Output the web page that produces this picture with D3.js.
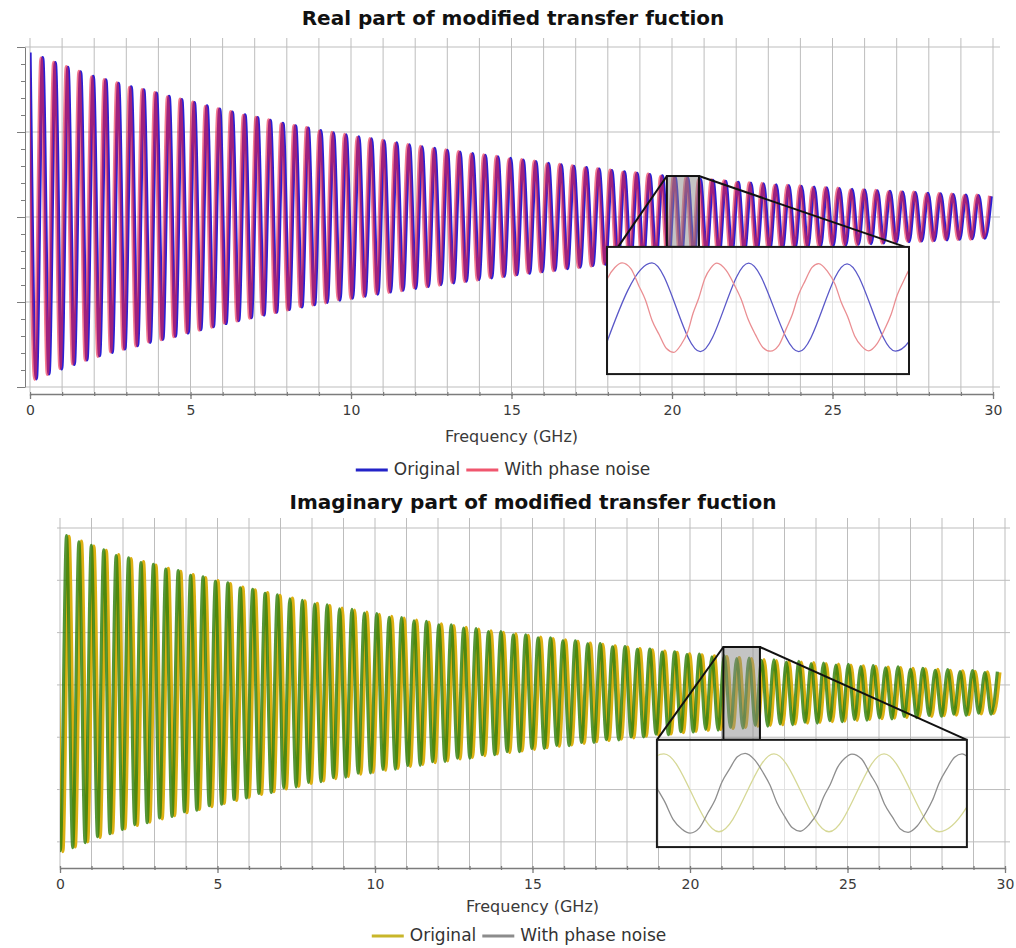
<!DOCTYPE html>
<html>
<head>
<meta charset="utf-8">
<script src="https://cdn.jsdelivr.net/npm/d3@7"></script>
<style>
  body { margin: 0; background: #fff; }
  svg { display: block; }
  text { font-family: "DejaVu Sans", Verdana, sans-serif; }
</style>
</head>
<body>
<svg id="chart" width="1016" height="948"></svg>
<script>
// ---------------- DATA ----------------
const freqTicks = [0, 5, 10, 15, 20, 25, 30];
const seriesNames = ["Original", "With phase noise"];
const titles = ["Real part of modified transfer fuction", "Imaginary part of modified transfer fuction"];
const xTitle = "Frequency (GHz)";

// extrema of the oscillation are evenly spaced in frequency
const extremaStepGHz = 0.197;
const realOriginalFirstGHz = 0.0;
const realNoisyFirstGHz = -0.05;
const imagOriginalFirstGHz = -0.107;
const imagNoisyFirstGHz = -0.187;

// value at each successive extremum (peak / trough)
const realOriginal = [0.967,-0.952,0.937,-0.923,0.908,-0.893,0.880,-0.867,0.853,-0.840,
0.827,-0.816,0.806,-0.796,0.786,-0.775,0.766,-0.756,0.747,-0.737,
0.728,-0.719,0.709,-0.700,0.691,-0.682,0.672,-0.663,0.653,-0.644,
0.634,-0.626,0.617,-0.609,0.601,-0.592,0.584,-0.576,0.568,-0.559,
0.551,-0.543,0.536,-0.529,0.522,-0.515,0.508,-0.502,0.495,-0.489,
0.483,-0.477,0.471,-0.465,0.459,-0.453,0.447,-0.441,0.436,-0.430,
0.424,-0.419,0.413,-0.408,0.403,-0.397,0.392,-0.387,0.382,-0.377,
0.372,-0.367,0.363,-0.358,0.353,-0.348,0.344,-0.339,0.335,-0.330,
0.325,-0.321,0.316,-0.312,0.307,-0.303,0.298,-0.294,0.290,-0.285,
0.281,-0.277,0.273,-0.269,0.265,-0.261,0.257,-0.253,0.249,-0.246,
0.242,-0.238,0.234,-0.231,0.228,-0.225,0.222,-0.219,0.216,-0.213,
0.210,-0.207,0.204,-0.202,0.199,-0.196,0.194,-0.191,0.189,-0.187,
0.184,-0.182,0.180,-0.177,0.175,-0.173,0.171,-0.169,0.167,-0.164,
0.162,-0.160,0.158,-0.156,0.154,-0.152,0.150,-0.148,0.146,-0.145,
0.143,-0.141,0.139,-0.137,0.136,-0.134,0.132,-0.130,0.129,-0.127,
0.126,-0.124,0.122];

const realNoisy = [0.970,-0.955,0.935,-0.926,0.910,-0.890,0.884,-0.864,0.856,-0.842,
0.824,-0.819,0.808,-0.793,0.789,-0.777,0.763,-0.758,0.749,-0.734,
0.731,-0.721,0.706,-0.703,0.693,-0.679,0.675,-0.665,0.650,-0.647,
0.636,-0.623,0.620,-0.611,0.598,-0.595,0.586,-0.573,0.571,-0.561,
0.548,-0.546,0.538,-0.526,0.525,-0.517,0.505,-0.505,0.497,-0.486,
0.486,-0.479,0.468,-0.468,0.461,-0.450,0.450,-0.443,0.433,-0.433,
0.426,-0.416,0.416,-0.410,0.400,-0.400,0.394,-0.384,0.385,-0.379,
0.369,-0.370,0.365,-0.355,0.356,-0.350,0.341,-0.342,0.337,-0.327,
0.328,-0.323,0.313,-0.315,0.309,-0.300,0.301,-0.296,0.287,-0.288,
0.283,-0.274,0.276,-0.271,0.262,-0.264,0.259,-0.250,0.252,-0.248,
0.239,-0.241,0.236,-0.228,0.231,-0.227,0.219,-0.222,0.218,-0.210,
0.213,-0.209,0.201,-0.205,0.201,-0.193,0.197,-0.193,0.186,-0.190,
0.186,-0.179,0.183,-0.179,0.172,-0.176,0.173,-0.166,0.170,-0.166,
0.159,-0.163,0.160,-0.153,0.157,-0.154,0.147,-0.151,0.148,-0.142,
0.146,-0.143,0.136,-0.140,0.138,-0.131,0.135,-0.132,0.126,-0.130,
0.128,-0.121,0.125];

const imagOriginal = [0.586,-0.637,0.568,-0.619,0.550,-0.600,0.531,-0.583,0.514,-0.566,
0.498,-0.550,0.483,-0.537,0.471,-0.524,0.458,-0.512,0.446,-0.500,
0.434,-0.488,0.422,-0.476,0.410,-0.465,0.399,-0.453,0.387,-0.441,
0.374,-0.429,0.363,-0.418,0.353,-0.408,0.342,-0.397,0.332,-0.387,
0.321,-0.376,0.312,-0.367,0.303,-0.358,0.294,-0.350,0.286,-0.341,
0.278,-0.334,0.270,-0.326,0.262,-0.319,0.255,-0.311,0.248,-0.304,
0.240,-0.297,0.233,-0.290,0.227,-0.283,0.220,-0.277,0.213,-0.270,
0.207,-0.264,0.201,-0.258,0.195,-0.252,0.189,-0.246,0.183,-0.240,
0.177,-0.234,0.172,-0.229,0.166,-0.223,0.160,-0.217,0.155,-0.212,
0.149,-0.207,0.144,-0.202,0.139,-0.196,0.134,-0.191,0.129,-0.187,
0.124,-0.182,0.119,-0.177,0.115,-0.173,0.111,-0.170,0.108,-0.166,
0.104,-0.162,0.100,-0.158,0.097,-0.155,0.093,-0.152,0.090,-0.149,
0.087,-0.146,0.085,-0.143,0.081,-0.140,0.079,-0.138,0.076,-0.135,
0.073,-0.132,0.071,-0.129,0.068,-0.127,0.066,-0.124,0.063,-0.122,
0.061,-0.120,0.059,-0.117,0.056,-0.115,0.054,-0.113,0.052,-0.111,
0.050,-0.109,0.048];

const imagNoisy = [0.590,-0.634,0.571,-0.622,0.547,-0.603,0.534,-0.580,0.517,-0.569,
0.495,-0.553,0.486,-0.534,0.468,-0.527,0.461,-0.509,0.443,-0.503,
0.437,-0.485,0.419,-0.479,0.413,-0.462,0.396,-0.456,0.390,-0.438,
0.371,-0.432,0.366,-0.415,0.350,-0.411,0.345,-0.394,0.329,-0.390,
0.324,-0.373,0.309,-0.370,0.306,-0.355,0.291,-0.353,0.289,-0.338,
0.275,-0.337,0.273,-0.323,0.259,-0.322,0.258,-0.308,0.245,-0.307,
0.243,-0.294,0.230,-0.293,0.230,-0.280,0.217,-0.280,0.216,-0.267,
0.204,-0.267,0.204,-0.255,0.192,-0.255,0.192,-0.243,0.180,-0.243,
0.180,-0.231,0.169,-0.232,0.169,-0.220,0.157,-0.220,0.158,-0.209,
0.146,-0.210,0.147,-0.199,0.136,-0.199,0.137,-0.188,0.126,-0.190,
0.127,-0.179,0.116,-0.180,0.118,-0.170,0.108,-0.173,0.111,-0.163,
0.101,-0.165,0.103,-0.155,0.094,-0.158,0.096,-0.149,0.087,-0.152,
0.090,-0.143,0.082,-0.146,0.084,-0.137,0.076,-0.141,0.079,-0.132,
0.070,-0.135,0.074,-0.126,0.065,-0.130,0.069,-0.121,0.060,-0.125,
0.064,-0.117,0.056,-0.120,0.059,-0.112,0.051,-0.116,0.055,-0.108,
0.047,-0.112,0.051];

// zoomed insets: [frequency GHz, value]
const realInsetWindowGHz = [19.84, 20.84];
const realInsetOriginal = [[19.828,-0.200],[19.989,0.200],[20.149,-0.200],[20.309,0.199],
  [20.475,-0.200],[20.635,0.196],[20.795,-0.198],[20.955,0.198]];
const realInsetNoisy = [[19.720,-0.200],
  [19.749,-0.166],[19.776,-0.106],[19.797,-0.025],[19.819,0.044],[19.842,0.131],[19.866,0.179],
  [19.890,0.200],
  [19.919,0.174],[19.946,0.095],[19.967,0.034],[19.989,-0.058],[20.013,-0.124],[20.037,-0.186],
  [20.061,-0.203],
  [20.085,-0.169],[20.108,-0.108],[20.125,-0.027],[20.144,0.042],[20.164,0.130],[20.184,0.178],
  [20.204,0.199],
  [20.234,0.167],[20.262,0.100],[20.284,0.037],[20.307,-0.053],[20.331,-0.122],[20.356,-0.181],
  [20.381,-0.198],
  [20.408,-0.173],[20.434,-0.095],[20.453,-0.035],[20.474,0.055],[20.496,0.119],[20.519,0.180],
  [20.541,0.197],
  [20.569,0.164],[20.595,0.104],[20.615,0.025],[20.637,-0.043],[20.660,-0.129],[20.683,-0.175],
  [20.706,-0.196],
  [20.734,-0.165],[20.760,-0.097],[20.780,-0.035],[20.801,0.055],[20.824,0.124],[20.847,0.183],
  [20.870,0.200]];

const imagInsetWindowGHz = [21.06, 22.22];
const imagInsetOriginal = [[20.880,-0.150],[21.086,0.150],[21.292,-0.150],[21.498,0.150],
  [21.704,-0.150],[21.910,0.150],[22.116,-0.150],[22.322,0.150]];
const imagInsetNoisy = [[20.960,0.150],
  [20.998,0.124],[21.034,0.078],[21.061,0.017],[21.090,-0.036],[21.121,-0.103],[21.153,-0.139],
  [21.184,-0.155],
  [21.219,-0.135],[21.252,-0.075],[21.277,-0.029],[21.303,0.041],[21.332,0.092],[21.361,0.139],
  [21.390,0.152],
  [21.425,0.128],[21.458,0.077],[21.483,0.030],[21.509,-0.038],[21.538,-0.091],[21.567,-0.135],
  [21.596,-0.148],
  [21.629,-0.123],[21.660,-0.078],[21.683,-0.018],[21.709,0.033],[21.736,0.098],[21.763,0.133],
  [21.790,0.149],
  [21.826,0.130],[21.859,0.071],[21.885,0.025],[21.912,-0.044],[21.941,-0.093],[21.971,-0.139],
  [22.000,-0.152],
  [22.034,-0.128],[22.067,-0.076],[22.091,-0.029],[22.117,0.040],[22.145,0.092],[22.174,0.137],
  [22.202,0.150],
  [22.237,0.125]];

// ---------------- DRAWING ----------------
const svg = d3.select("#chart");
const FONT = '"DejaVu Sans", Verdana, sans-serif';
let clipId = 0;

function toPoints(values, first, step) {
  return values.map((v, i) => ({ f: first + i * step, v }));
}

function panel(p) {
  const g = svg.append("g");
  const x = d3.scaleLinear().domain([0, 30]).range(p.xRange);
  const y = d3.scaleLinear().domain(p.yDomain).range(p.yRange);

  // title
  g.append("text").attr("x", p.titleX).attr("y", p.titleY)
    .attr("text-anchor", "middle").attr("dominant-baseline", "middle")
    .attr("font-size", 20).attr("font-weight", "bold").attr("fill", "#111")
    .text(p.title);

  // grid
  g.append("g").selectAll("line").data(x.ticks(30)).join("line")
    .attr("x1", d => x(d)).attr("x2", d => x(d))
    .attr("y1", p.gridTop).attr("y2", p.gridBottom)
    .attr("stroke", "#bdbdbd").attr("stroke-width", 1);
  g.append("g").selectAll("line").data(p.yGrid).join("line")
    .attr("x1", p.gridLeft).attr("x2", p.gridRight)
    .attr("y1", d => y(d)).attr("y2", d => y(d))
    .attr("stroke", "#bdbdbd").attr("stroke-width", 1);

  // y axis (top panel only)
  if (p.yAxisX != null) {
    const ya = g.append("g").attr("transform", `translate(${p.yAxisX},0)`)
      .call(d3.axisLeft(y).tickValues(p.yGrid).tickSize(8).tickSizeOuter(0).tickFormat(""));
    const ym = g.append("g").attr("transform", `translate(${p.yAxisX},0)`)
      .call(d3.axisLeft(y).ticks(20).tickSize(4).tickFormat(""));
    ym.select(".domain").remove();
    [ya, ym].forEach(a => a.selectAll("path,line").attr("stroke", "#7c7c7c"));
  }

  // x axis
  const xa = g.append("g").attr("transform", `translate(0,${p.axisY})`)
    .call(d3.axisBottom(x).tickValues(freqTicks).tickSize(5).tickSizeOuter(0).tickPadding(6));
  const xm = g.append("g").attr("transform", `translate(0,${p.axisY - 2})`)
    .call(d3.axisBottom(x).ticks(30).tickSize(4).tickFormat(""));
  xm.select(".domain").remove();
  [xa, xm].forEach(a => a.selectAll("path,line").attr("stroke", "#7c7c7c").attr("stroke-width", 1.3));
  xa.selectAll("text").attr("font-size", 14).attr("fill", "#3a3a3a").attr("font-family", FONT);

  g.append("text").attr("x", (p.xRange[0] + p.xRange[1]) / 2).attr("y", p.xTitleY)
    .attr("text-anchor", "middle").attr("dominant-baseline", "middle")
    .attr("font-size", 16).attr("fill", "#3a3a3a").text(xTitle);

  // series
  const cid = "clip" + (clipId++);
  g.append("clipPath").attr("id", cid).append("rect")
    .attr("x", p.xRange[0]).attr("y", 0)
    .attr("width", p.xRange[1] - p.xRange[0] + 1).attr("height", 948);
  const line = d3.line().x(d => x(d.f)).y(d => y(d.v)).curve(d3.curveMonotoneX);
  const sg = g.append("g").attr("clip-path", `url(#${cid})`);
  p.series.forEach(s => {
    sg.append("path").datum(s.points).attr("d", line)
      .attr("fill", "none").attr("stroke", s.color)
      .attr("stroke-width", s.width).attr("stroke-opacity", s.opacity)
      .attr("stroke-linejoin", "round");
  });

  // inset
  const I = p.inset;
  const bx0 = x(I.window[0]), bx1 = x(I.window[1]);
  const by0 = y(I.boxTop), by1 = y(I.rectV[1]);
  g.append("rect").attr("x", bx0).attr("y", by0).attr("width", bx1 - bx0).attr("height", by1 - by0)
    .attr("fill", "#8a8a8a").attr("fill-opacity", 0.5)
    .attr("stroke", "#111").attr("stroke-width", 2);
  const rx0 = x(I.rectF[0]), rx1 = x(I.rectF[1]);
  const ry0 = y(I.rectV[1]), ry1 = y(I.rectV[0]);
  g.append("line").attr("x1", bx0).attr("y1", by0).attr("x2", x(I.joinF[0])).attr("y2", ry0)
    .attr("stroke", "#111").attr("stroke-width", 2);
  g.append("line").attr("x1", bx1).attr("y1", by0).attr("x2", x(I.joinF[1])).attr("y2", ry0)
    .attr("stroke", "#111").attr("stroke-width", 2);
  g.append("rect").attr("x", rx0).attr("y", ry0).attr("width", rx1 - rx0).attr("height", ry1 - ry0)
    .attr("fill", "#fff");
  const icid = "clip" + (clipId++);
  g.append("clipPath").attr("id", icid).append("rect")
    .attr("x", rx0).attr("y", ry0).attr("width", rx1 - rx0).attr("height", ry1 - ry0);
  const ig = g.append("g").attr("clip-path", `url(#${icid})`);
  ig.selectAll("line.v").data(x.ticks(30)).join("line")
    .attr("x1", d => x(d)).attr("x2", d => x(d)).attr("y1", ry0).attr("y2", ry1)
    .attr("stroke", "#e2e2e2");
  ig.selectAll("line.h").data(p.yGrid).join("line")
    .attr("x1", rx0).attr("x2", rx1).attr("y1", d => y(d)).attr("y2", d => y(d))
    .attr("stroke", "#e2e2e2");
  const ix = d3.scaleLinear().domain(I.window).range([rx0, rx1]);
  const iy = d3.scaleLinear().domain(I.localV).range([ry1, ry0]);
  const iline = d3.line().x(d => ix(d[0])).y(d => iy(d[1])).curve(d3.curveMonotoneX);
  I.series.forEach(s => {
    ig.append("path").datum(s.points).attr("d", iline)
      .attr("fill", "none").attr("stroke", s.color).attr("stroke-width", s.width);
  });
  g.append("rect").attr("x", rx0).attr("y", ry0).attr("width", rx1 - rx0).attr("height", ry1 - ry0)
    .attr("fill", "none").attr("stroke", "#1a1a1a").attr("stroke-width", 2);

  // legend
  const lg = g.append("g");
  const items = p.legend.map(l => {
    const t = lg.append("text").attr("font-size", 17).attr("fill", "#333")
      .attr("dominant-baseline", "middle").attr("y", p.legendY).text(l.label);
    return { l, t, w: t.node().getComputedTextLength() };
  });
  const sw = 32, gap1 = 6, gap2 = 6;
  const total = d3.sum(items, d => sw + gap1 + d.w) + gap2 * (items.length - 1);
  let cx = p.legendX - total / 2;
  items.forEach(d => {
    lg.append("line").attr("x1", cx).attr("x2", cx + sw).attr("y1", p.legendY).attr("y2", p.legendY)
      .attr("stroke", d.l.color).attr("stroke-width", 3);
    d.t.attr("x", cx + sw + gap1);
    cx += sw + gap1 + d.w + gap2;
  });
}

// top: real part
panel({
  title: titles[0], titleX: 513, titleY: 19,
  xRange: [30, 993], yDomain: [-1, 1], yRange: [387, 47],
  yGrid: [-1, -0.5, 0, 0.5, 1],
  gridTop: 38, gridBottom: 392, gridLeft: 25, gridRight: 1000,
  yAxisX: 25, axisY: 394, xTitleY: 437,
  series: [
    { points: toPoints(realOriginal, realOriginalFirstGHz, extremaStepGHz), color: "#2a1fd4", width: 3.3, opacity: 1 },
    { points: toPoints(realNoisy, realNoisyFirstGHz, extremaStepGHz), color: "#ec2343", width: 3.3, opacity: 0.6 }
  ],
  inset: {
    window: realInsetWindowGHz, boxTop: 0.241,
    rectF: [17.975, 27.383], rectV: [-0.924, -0.176], joinF: [18.32, 27.26],
    localV: [-0.301, 0.272],
    series: [
      { points: realInsetOriginal, color: "#5a58c8", width: 1.3 },
      { points: realInsetNoisy, color: "#ea8e92", width: 1.3 }
    ]
  },
  legendX: 503, legendY: 470,
  legend: [{ label: seriesNames[0], color: "#2323c8" }, { label: seriesNames[1], color: "#f0566e" }]
});

// bottom: imaginary part
panel({
  title: titles[1], titleX: 533, titleY: 503,
  xRange: [60, 1005], yDomain: [-0.7, 0.6], yRange: [868, 528],
  yGrid: [-0.6, -0.4, -0.2, 0, 0.2, 0.4, 0.6],
  gridTop: 518, gridBottom: 868, gridLeft: 57, gridRight: 1010,
  yAxisX: null, axisY: 868, xTitleY: 907,
  series: [
    { points: toPoints(imagOriginal, imagOriginalFirstGHz, extremaStepGHz), color: "#dcb012", width: 3.3, opacity: 1 },
    { points: toPoints(imagNoisy, imagNoisyFirstGHz, extremaStepGHz), color: "#2f7f0c", width: 3.1, opacity: 0.82 }
  ],
  inset: {
    window: imagInsetWindowGHz, boxTop: 0.145,
    rectF: [18.95, 28.79], rectV: [-0.62, -0.21], joinF: [18.95, 28.79],
    localV: [-0.209, 0.204],
    series: [
      { points: imagInsetOriginal, color: "#d6d896", width: 1.3 },
      { points: imagInsetNoisy, color: "#8e8e8e", width: 1.3 }
    ]
  },
  legendX: 519, legendY: 936,
  legend: [{ label: seriesNames[0], color: "#c8b62a" }, { label: seriesNames[1], color: "#8c8c8c" }]
});
</script>
</body>
</html>
